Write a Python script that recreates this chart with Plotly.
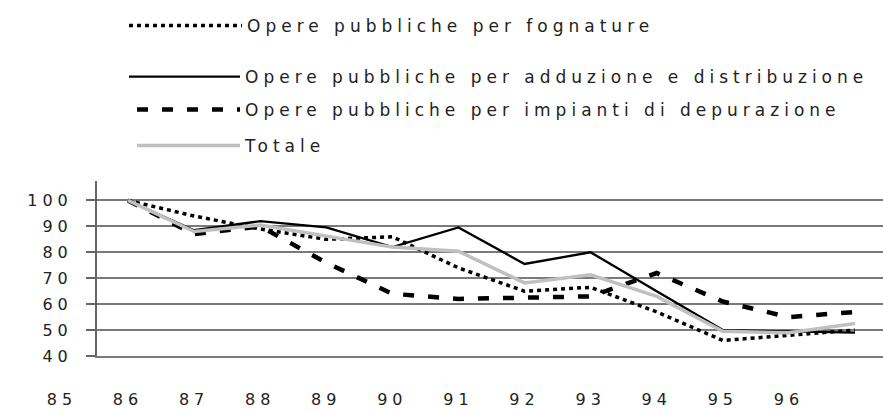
import plotly.graph_objects as go

# ---- data ----
years = [86, 87, 88, 89, 90, 91, 92, 93, 94, 95, 96, 97]
fognature = [100, 94, 89, 85, 86, 74, 65, 66.5, 57, 46, 48, 50]
adduzione = [100, 88.5, 92, 89.6, 82, 89.6, 75.5, 80, 65, 50, 49.5, 49]
impianti = [100, 87, 90, 76, 64, 62, 62.5, 63, 72, 61, 55, 57]
totale = [100, 88, 90.5, 86.3, 82, 80.4, 68.2, 71.3, 63, 49.5, 49, 52.5]

series_names = [
    "Opere pubbliche per fognature",
    "Opere pubbliche per adduzione e distribuzione",
    "Opere pubbliche per impianti di depurazione",
    "Totale",
]

x_tick_positions = [85, 86, 87, 88, 89, 90, 91, 92, 93, 94, 95, 96]
x_tick_labels = ["85", "86", "87", "88", "89", "90", "91", "92", "93", "94", "95", "96"]
y_tick_values = [40, 50, 60, 70, 80, 90, 100]
y_tick_labels = ["40", "50", "60", "70", "80", "90", "100"]

# ---- layout helpers ----
W, H = 883, 410
ML, MR, MT, MB = 20, 0, 10, 10
PW, PH = W - ML - MR, H - MT - MB


def fx(px):
    return (px - ML) / PW


def fy(py):
    return (H - MB - py) / PH


def spaced(text, px):
    return f'<span style="letter-spacing:{px}px">{text}</span>'


FONT = "DejaVu Sans"
TXT = "#222222"

fig = go.Figure()

styles = [
    dict(color="black", width=3.5, dash="4px,4px"),
    dict(color="black", width=2.3),
    dict(color="black", width=4.5, dash="11px,14px"),
    dict(color="#c0c0c0", width=3.5),
]
values = [fognature, adduzione, impianti, totale]
legend_ids = ["legend", "legend2", "legend3", "legend4"]

for name, vals, st, lg in zip(series_names, values, styles, legend_ids):
    fig.add_trace(go.Scatter(
        x=years, y=vals, mode="lines", name=spaced(name, 5),
        line=st, legend=lg, showlegend=True, hoverinfo="skip",
    ))

# helper trace that carries the separate tick-label axis
fig.add_trace(go.Scatter(x=[], y=[], xaxis="x2", yaxis="y2",
                         showlegend=False, hoverinfo="skip"))

legend_common = dict(
    font=dict(family=FONT, size=17, color=TXT),
    bgcolor="rgba(0,0,0,0)", borderwidth=0,
    xanchor="left", yanchor="middle",
)

fig.update_layout(
    width=W, height=H, showlegend=True,
    margin=dict(l=ML, r=MR, t=MT, b=MB, pad=0),
    paper_bgcolor="white", plot_bgcolor="rgba(0,0,0,0)",
    font=dict(family=FONT, size=16, color=TXT),
    xaxis=dict(
        domain=[fx(97), 1], range=[85.531, 97.424],
        showticklabels=False, showgrid=False, zeroline=False,
        showline=True, linecolor="#7a7a7a", linewidth=1.6, ticks="",
    ),
    yaxis=dict(
        domain=[fy(356), fy(181)], range=[40, 107.5],
        tickvals=y_tick_values,
        ticktext=[spaced(t, 5) for t in y_tick_labels],
        ticks="outside", ticklen=9, tickwidth=1.6, tickcolor="#666666",
        showline=True, linecolor="#666666", linewidth=2,
        showgrid=True, gridcolor="#7a7a7a", gridwidth=1.6,
        zeroline=False, ticklabelstandoff=10,
        tickfont=dict(family=FONT, size=16, color=TXT),
    ),
    xaxis2=dict(
        domain=[0, 1], anchor="y2", range=[84.366, 97.424],
        tickvals=x_tick_positions,
        ticktext=[spaced(t, 5) for t in x_tick_labels],
        showline=False, showgrid=False, zeroline=False, ticks="",
        tickfont=dict(family=FONT, size=16, color=TXT),
    ),
    yaxis2=dict(domain=[fy(388), 1], range=[0, 1], visible=False),
    legend=dict(legend_common, x=fx(124), y=fy(26), itemwidth=113),
    legend2=dict(legend_common, x=fx(124), y=fy(77), itemwidth=111),
    legend3=dict(legend_common, x=fx(132), y=fy(110), itemwidth=103),
    legend4=dict(legend_common, x=fx(132), y=fy(146), itemwidth=103),
)

fig.write_html(
    "out.html",
    config={"displayModeBar": False},
    post_script="document.body.style.margin='0';document.body.style.overflow='hidden';",
)
